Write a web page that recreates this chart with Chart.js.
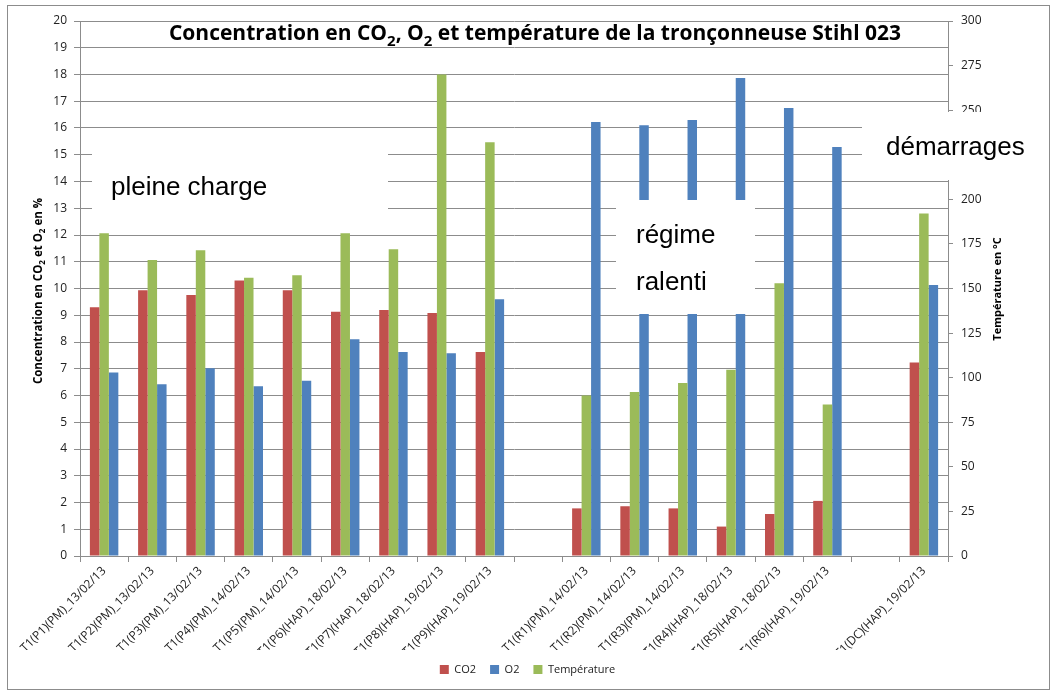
<!DOCTYPE html>
<html lang="fr">
<head>
<meta charset="utf-8">
<title>Concentration en CO2, O2 et température - Stihl 023</title>
<script src="https://cdn.jsdelivr.net/npm/chart.js@4.4.1/dist/chart.umd.min.js"></script>
<style>
  html, body { margin: 0; padding: 0; background: #fff; }
  #wrap { position: relative; width: 1055px; height: 690px; }
</style>
</head>
<body>
<div id="wrap"><canvas id="chart"></canvas></div>
<script>
// Catégories (les deux '' sont des colonnes vides entre les groupes)
const categories = [
  'T1(P1)(PM)_13/02/13', 'T1(P2)(PM)_13/02/13', 'T1(P3)(PM)_13/02/13',
  'T1(P4)(PM)_14/02/13', 'T1(P5)(PM)_14/02/13', 'T1(P6)(HAP)_18/02/13',
  'T1(P7)(HAP)_18/02/13', 'T1(P8)(HAP)_19/02/13', 'T1(P9)(HAP)_19/02/13',
  '',
  'T1(R1)(PM)_14/02/13', 'T1(R2)(PM)_14/02/13', 'T1(R3)(PM)_14/02/13',
  'T1(R4)(HAP)_18/02/13', 'T1(R5)(HAP)_18/02/13', 'T1(R6)(HAP)_19/02/13',
  '',
  'T1(DC)(HAP)_19/02/13'
];

// % (axe de gauche)
const co2Values = [9.3, 9.93, 9.76, 10.3, 9.93, 9.13, 9.2, 9.08, 7.63, null,
  1.78, 1.86, 1.78, 1.1, 1.57, 2.06, null, 7.23];
const o2Values = [6.86, 6.42, 7.02, 6.35, 6.55, 8.1, 7.63, 7.58, 9.6, null,
  16.22, 16.1, 16.3, 17.87, 16.75, 15.29, null, 10.13];

// °C (axe de droite)
const temperatureValues = [181, 166, 171.5, 156, 157.5, 181, 172, 270, 232, null,
  90, 92, 97, 104.5, 153, 85, null, 192];

const legendOrder = ['CO2', 'O2', 'Température'];

const RED = '#C0504D';
const BLUE = '#4F81BD';
const GREEN = '#9BBB59';
const GRID = '#8c8c8c';
const TICK_COLOR = '#222';
const FONT = '"Open Sans", "DejaVu Sans", sans-serif';

// zones de texte (fond blanc qui masque la grille, comme dans le classeur)
const notes = [
  { lines: ['pleine charge'], box: [92, 140, 388, 226], x: 111, baselines: [195] },
  { lines: ['régime', 'ralenti'], box: [616, 200, 755, 314], x: 636, baselines: [243, 290] },
  { lines: ['démarrages'], box: [862, 112, 1046, 180], x: 886, baselines: [155] }
];

function drawRich(ctx, parts, x, y, size, angle) {
  ctx.save();
  ctx.translate(x, y);
  ctx.rotate(angle);
  ctx.fillStyle = '#000';
  ctx.textBaseline = 'alphabetic';
  ctx.textAlign = 'left';
  const fontFor = sub => `bold ${sub ? Math.round(size * 0.7) : size}px ${FONT}`;
  let total = 0;
  const widths = parts.map(([txt, sub]) => {
    ctx.font = fontFor(sub);
    const w = ctx.measureText(txt).width;
    total += w;
    return w;
  });
  let cx = -total / 2;
  parts.forEach(([txt, sub], i) => {
    ctx.font = fontFor(sub);
    ctx.fillText(txt, cx, sub ? size * 0.3 : 0);
    cx += widths[i];
  });
  ctx.restore();
}

const overlayPlugin = {
  id: 'overlay',
  afterDatasetsDraw(chart) {
    const ctx = chart.ctx;
    ctx.save();
    notes.forEach(note => {
      const [x1, y1, x2, y2] = note.box;
      ctx.fillStyle = '#fff';
      ctx.fillRect(x1, y1, x2 - x1, y2 - y1);
      ctx.fillStyle = '#000';
      ctx.font = '26px "Liberation Sans", Arial, sans-serif';
      ctx.textAlign = 'left';
      ctx.textBaseline = 'alphabetic';
      note.lines.forEach((line, i) => ctx.fillText(line, note.x, note.baselines[i]));
    });
    ctx.restore();
  },
  afterDraw(chart) {
    const ctx = chart.ctx;
    // cadre du graphique
    ctx.save();
    ctx.strokeStyle = GRID;
    ctx.lineWidth = 1;
    ctx.strokeRect(7.5, 5.5, 1042, 684);
    ctx.restore();

    drawRich(ctx, [
      ['Concentration en CO', false], ['2', true], [', O', false], ['2', true],
      [' et température de la tronçonneuse Stihl 023', false]
    ], 535, 40, 21, 0);

    drawRich(ctx, [
      ['Concentration en CO', false], ['2', true], [' et O', false], ['2', true], [' en %', false]
    ], 42, 291, 11.5, -Math.PI / 2);

    drawRich(ctx, [['Température en °C', false]], 1001, 289, 11, -Math.PI / 2);
  }
};

new Chart(document.getElementById('chart'), {
  type: 'bar',
  data: {
    labels: categories,
    datasets: [
      { label: 'CO2', data: co2Values, backgroundColor: RED, yAxisID: 'y' },
      { label: 'Température', data: temperatureValues, backgroundColor: GREEN, yAxisID: 'y1' },
      { label: 'O2', data: o2Values, backgroundColor: BLUE, yAxisID: 'y' }
    ]
  },
  options: {
    responsive: true,
    maintainAspectRatio: false,
    animation: false,
    layout: { padding: { top: 21, left: 0, right: 0, bottom: 10 } },
    datasets: {
      bar: { categoryPercentage: 0.59, barPercentage: 1, borderWidth: 0 }
    },
    plugins: {
      title: { display: false },
      tooltip: { enabled: false },
      legend: {
        position: 'bottom',
        maxHeight: 30,
        labels: {
          boxWidth: 9,
          boxHeight: 9,
          padding: 14,
          color: TICK_COLOR,
          font: { family: FONT, size: 11 },
          sort: (a, b) => legendOrder.indexOf(a.text) - legendOrder.indexOf(b.text)
        }
      }
    },
    scales: {
      x: {
        offset: true,
        grid: { offset: true, drawOnChartArea: false, tickLength: 6, color: GRID },
        border: { color: GRID },
        ticks: {
          autoSkip: false,
          maxRotation: 45,
          minRotation: 45,
          padding: 2,
          color: TICK_COLOR,
          font: { family: FONT, size: 12 }
        },
        afterFit: scale => { scale.height = 94; }
      },
      y: {
        position: 'left',
        min: 0,
        max: 20,
        ticks: { stepSize: 1, padding: 7, color: TICK_COLOR, font: { family: FONT, size: 12 } },
        grid: { color: GRID, tickLength: 6 },
        border: { color: GRID },
        afterFit: scale => { scale.width = 80; }
      },
      y1: {
        position: 'right',
        min: 0,
        max: 300,
        ticks: { stepSize: 25, padding: 8, color: TICK_COLOR, font: { family: FONT, size: 12 } },
        grid: { drawOnChartArea: false, color: GRID, tickLength: 5 },
        border: { color: GRID },
        afterFit: scale => { scale.width = 107; }
      }
    }
  },
  plugins: [overlayPlugin]
});
</script>
</body>
</html>
